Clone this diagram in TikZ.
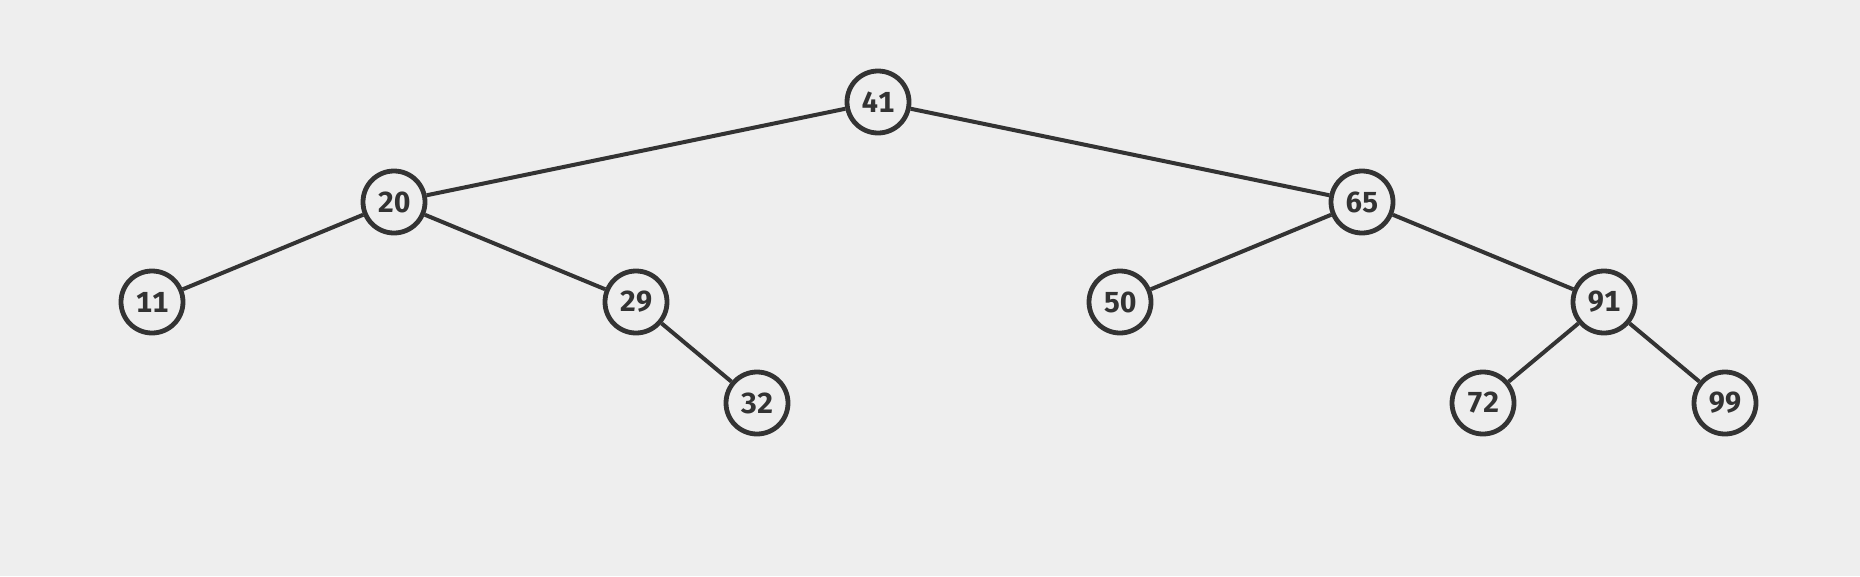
\documentclass[tikz,border=0pt]{standalone}
\usepackage{fontspec}
\setmainfont{Fira Sans}[Numbers=Monospaced]
\definecolor{bg}{HTML}{EEEEEE}
\definecolor{ink}{HTML}{333333}
\begin{document}
\begin{tikzpicture}[x=1pt,y=-1pt,
  tn/.style={circle,draw=ink,line width=4.8pt,fill=bg,minimum size=62pt,inner sep=0pt,
    text=ink,font=\fontsize{29}{29}\selectfont\bfseries},
  ed/.style={draw=ink,line width=4pt}]
\fill[bg] (0,0) rectangle (1860,576);
\useasboundingbox (0,0) rectangle (1860,576);
\node[tn] (n41) at (878,102) {41};
\node[tn] (n20) at (394,202) {20};
\node[tn] (n65) at (1362,202) {65};
\node[tn] (n11) at (152,302) {11};
\node[tn] (n29) at (636,302) {29};
\node[tn] (n50) at (1120,302) {50};
\node[tn] (n91) at (1604,302) {91};
\node[tn] (n32) at (757,403) {32};
\node[tn] (n72) at (1483,403) {72};
\node[tn] (n99) at (1725,403) {99};
\draw[ed] (n41) -- (n20);
\draw[ed] (n41) -- (n65);
\draw[ed] (n20) -- (n11);
\draw[ed] (n20) -- (n29);
\draw[ed] (n29) -- (n32);
\draw[ed] (n65) -- (n50);
\draw[ed] (n65) -- (n91);
\draw[ed] (n91) -- (n72);
\draw[ed] (n91) -- (n99);
\end{tikzpicture}
\end{document}
